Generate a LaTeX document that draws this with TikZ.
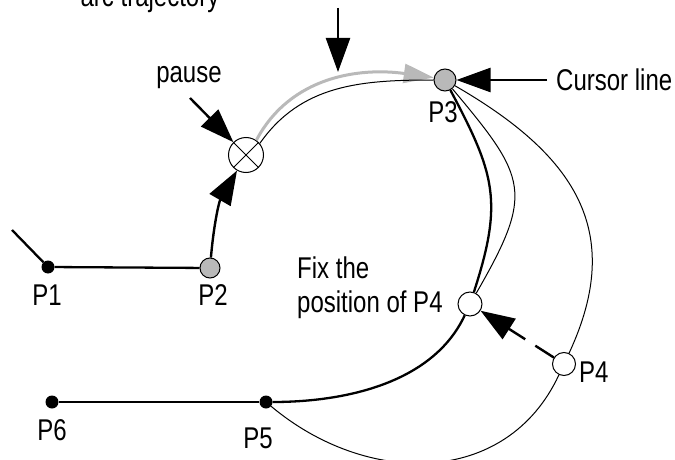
\documentclass[tikz,border=0pt]{standalone}
\usepackage{fontspec}
\setmainfont{Liberation Sans}[FakeStretch=0.8]
\usetikzlibrary{arrows.meta}
\begin{document}
\begin{tikzpicture}[x=1pt,y=1pt,
  lbl/.style={inner sep=0pt, font=\fontsize{30}{33}\selectfont},
  bigdot/.style={circle, fill=black, minimum size=13pt, inner sep=0pt},
  graydot/.style={circle, draw=black, line width=1pt, fill=gray!55, inner sep=0pt},
  whitedot/.style={circle, draw=black, line width=1pt, fill=white, inner sep=0pt},
  thinarc/.style={line width=1pt},
  thickarc/.style={line width=2.3pt},
  bigarrow/.style={line width=2.4pt, -{Triangle[length=34pt,width=24pt]}},
  grayarc/.style={line width=3pt, draw=gray!55, -{Triangle[length=30pt,width=19pt]}}
]
\useasboundingbox (0,0) rectangle (675,459);

% nodes
\coordinate (tail) at (12,229);
\node[bigdot] (P1) at (48,192) {};
\node[graydot, minimum size=20pt] (P2) at (210,191) {};
\node[whitedot, minimum size=35pt] (pause) at (246,304) {};
\node[graydot, minimum size=22pt] (P3) at (445,379) {};
\node[whitedot, minimum size=24pt] (fix) at (470,155) {};
\node[whitedot, minimum size=23pt] (P4) at (564,95) {};
\node[bigdot] (P5) at (266,57) {};
\node[bigdot] (P6) at (52,57) {};
\coordinate (topstart) at (338,451);
\coordinate (topend) at (338,387);
\coordinate (pausestart) at (190,361);
\coordinate (cursorstart) at (547,379);

% cross in pause
\draw[line width=1pt] (pause.45) -- (pause.225) (pause.135) -- (pause.-45);

% labels
\node[lbl, anchor=base] (tarc) at (150,452) {arc trajectory};
\node[lbl, anchor=base] (tpause) at (189,376) {pause};
\node[lbl, anchor=west] (tcursor) at (556,379) {Cursor line};
\node[lbl, anchor=base] (lP3) at (443,337) {P3};
\node[lbl, anchor=base] (lP1) at (47,154) {P1};
\node[lbl, anchor=base] (lP2) at (213,154) {P2};
\node[lbl, anchor=base west] (tfix1) at (297,181) {Fix the};
\node[lbl, anchor=base west] (tfix2) at (297,147) {position of P4};
\node[lbl, anchor=base west] (lP4) at (579,77) {P4};
\node[lbl, anchor=base] (lP6) at (52,19) {P6};
\node[lbl, anchor=base] (lP5) at (258,11) {P5};

% straight lines
\draw[thickarc] (tail) -- (P1) -- (P2);
\draw[thickarc] (P6) -- (P5);

% arcs
\draw[bigarrow] (P2) to[out=85, in=240] (pause);
\draw[grayarc] (pause.55) to[out=62, in=172] (P3.168);
\draw[thinarc] (pause.40) to[out=55, in=180] (P3);
\draw[thickarc] (P3) to[out=-62, in=72, looseness=1.2] (fix);
\draw[thinarc] (P3) to[out=-50, in=60, looseness=1.45] (fix);
\draw[thinarc] (P3) to[out=-30, in=65, looseness=1.2] (P4);
\draw[thinarc] (P4) to[out=-115, in=-40, looseness=1.1] (P5);
\draw[thickarc] (fix) to[out=-115, in=0, looseness=0.9] (P5);

% pointer arrows
\draw[bigarrow] (topstart) -- (topend);
\draw[bigarrow] (pausestart) -- (pause);
\draw[bigarrow] (cursorstart) -- (P3);
\draw[bigarrow, dash pattern=on 22pt off 12pt on 200pt] (P4) -- (fix);
\end{tikzpicture}
\end{document}
